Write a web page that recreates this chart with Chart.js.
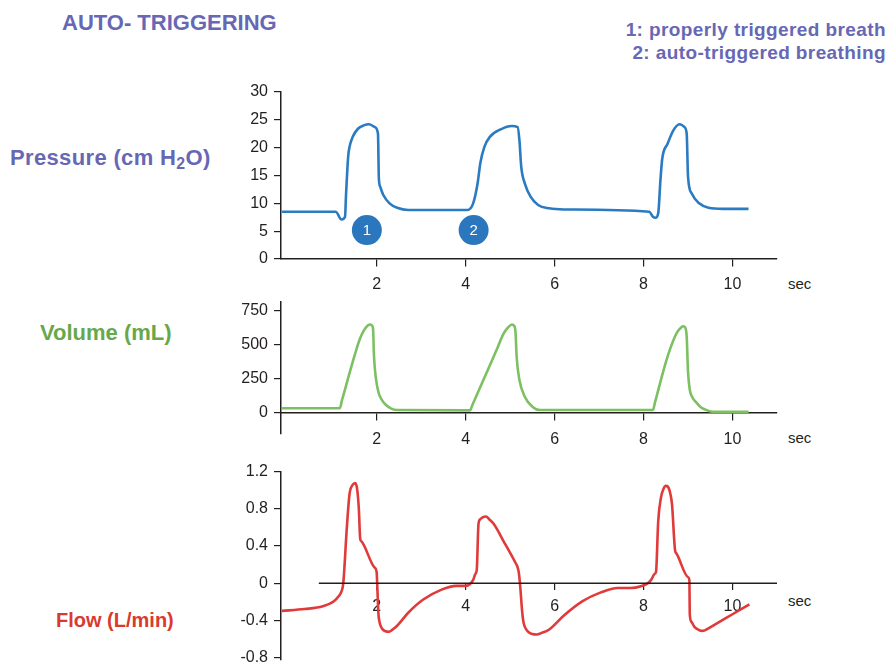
<!DOCTYPE html>
<html>
<head>
<meta charset="utf-8">
<script src="https://cdn.jsdelivr.net/npm/chart.js@4.4.0/dist/chart.umd.min.js"></script>
<style>
html,body{margin:0;padding:0;background:#fff;width:890px;height:662px;overflow:hidden;font-family:"Liberation Sans",Arial,Helvetica,sans-serif}
canvas{position:absolute;left:0;top:0}
.t{position:absolute;white-space:nowrap;font-weight:bold;line-height:1}
.sec{position:absolute;white-space:nowrap;line-height:1;font-size:15px;color:#231f20}
sub{font-size:0.72em;vertical-align:-0.28em;line-height:0}
</style>
</head>
<body>
<div class="t" style="left:62px;top:12px;font-size:22px;color:#6767b4">AUTO- TRIGGERING</div>
<div class="t" style="right:4px;top:20px;font-size:19px;letter-spacing:0.4px;color:#6767b4">1: properly triggered breath</div>
<div class="t" style="right:4px;top:43px;font-size:19px;letter-spacing:0.4px;color:#6767b4">2: auto-triggered breathing</div>
<div class="t" style="left:10px;top:147px;font-size:22px;letter-spacing:0.35px;color:#6767b4">Pressure (cm H<sub>2</sub>O)</div>
<div class="t" style="left:40px;top:322px;font-size:22px;color:#67a84b">Volume (mL)</div>
<div class="t" style="left:56px;top:610px;font-size:20px;color:#d93a2f">Flow (L/min)</div>
<div class="sec" style="left:788px;top:276px">sec</div>
<div class="sec" style="left:788px;top:430px">sec</div>
<div class="sec" style="left:788px;top:593px">sec</div>

<canvas id="cP" width="890" height="700"></canvas>
<canvas id="cV" width="890" height="700"></canvas>
<canvas id="cF" width="890" height="700"></canvas>

<script>
// ---------- data (seconds on x) ----------
const xTickValues = [2, 4, 6, 8, 10];
const xMin = -0.15, xMax = 11;

const pressureTicks = [0, 5, 10, 15, 20, 25, 30];
const pressureTime = [-0.13, 1.08, 1.21, 1.29, 1.31, 1.36, 1.39, 1.46, 1.58, 1.71,
  1.83, 1.96, 2.03, 2.05, 2.08, 2.15, 2.29, 2.46, 2.71, 4.04,
  4.17, 4.27, 4.33, 4.42, 4.54, 4.79, 5.04, 5.17, 5.21, 5.25,
  5.33, 5.46, 5.63, 5.88, 6.21, 8.13, 8.21, 8.27, 8.33, 8.38,
  8.42, 8.54, 8.67, 8.81, 8.92, 8.97, 9.0, 9.08, 9.25, 9.46,
  9.79, 10.36];
const pressureValues = [8.5, 8.5, 7.1, 7.6, 11.2, 18.4, 20.1, 21.9, 23.4, 24.0,
  24.2, 23.7, 22.5, 14.5, 13.0, 11.5, 10.0, 9.2, 8.8, 8.8,
  10.0, 13.6, 17.2, 20.1, 21.9, 23.3, 23.9, 23.7, 21.3, 16.6,
  13.6, 11.2, 9.7, 9.1, 8.9, 8.5, 7.6, 7.4, 8.2, 14.2,
  18.0, 20.7, 23.1, 24.2, 23.7, 22.5, 14.8, 11.8, 10.0, 9.2,
  9.0, 9.0];

const markerLabels = ['1', '2'];
const markerTimes = [1.78, 4.18];
const markerLevel = 5.2;

const volumeTicks = [0, 250, 500, 750];
const volumeTime = [-0.13, 1.17, 1.22, 1.50, 1.62, 1.72, 1.80, 1.86, 1.90, 1.92,
  1.94, 1.98, 2.04, 2.12, 2.21, 2.33, 2.46, 4.10, 4.15, 4.60,
  4.72, 4.85, 4.96, 5.04, 5.09, 5.12, 5.15, 5.21, 5.33, 5.50,
  5.67, 8.21, 8.26, 8.50, 8.62, 8.75, 8.85, 8.89, 8.94, 8.97,
  9.00, 9.04, 9.10, 9.17, 9.28, 9.38, 9.54, 10.36];
const volumeValues = [30, 30, 88, 415, 540, 610, 643, 650, 640, 615,
  420, 260, 150, 90, 54, 28, 17, 15, 52, 389,
  480, 580, 630, 650, 640, 600, 400, 239, 116, 42,
  17, 17, 77, 370, 490, 590, 630, 637, 625, 560,
  300, 165, 110, 79, 40, 22, 5, 5];

const flowTicks = [-0.8, -0.4, 0, 0.4, 0.8, 1.2];
const flowTime = [-0.13, 0.38, 0.79, 1.04, 1.15, 1.21, 1.25, 1.33, 1.39, 1.46,
  1.52, 1.56, 1.60, 1.63, 1.66, 1.95, 2.00, 2.02, 2.04, 2.07,
  2.12, 2.20, 2.28, 2.36, 2.46, 2.71, 3.04, 3.46, 3.79, 4.00,
  4.10, 4.17, 4.22, 4.25, 4.29, 4.33, 4.38, 4.46, 4.53, 4.63,
  4.88, 5.12, 5.17, 5.20, 5.23, 5.27, 5.30, 5.35, 5.42, 5.50,
  5.60, 5.70, 5.88, 6.21, 6.63, 7.04, 7.42, 7.71, 7.96, 8.10,
  8.17, 8.25, 8.28, 8.33, 8.39, 8.45, 8.50, 8.55, 8.60, 8.64,
  8.71, 8.74, 9.00, 9.03, 9.04, 9.08, 9.14, 9.22, 9.30, 9.38,
  9.45, 10.00, 10.38];
const flowValues = [-0.30, -0.28, -0.25, -0.195, -0.14, -0.09, 0, 0.60, 0.96, 1.06,
  1.08, 1.02, 0.80, 0.48, 0.45, 0.17, 0.12, -0.10, -0.33, -0.43,
  -0.49, -0.52, -0.525, -0.50, -0.46, -0.32, -0.18, -0.07, -0.03, -0.03,
  -0.01, 0.035, 0.10, 0.14, 0.64, 0.69, 0.71, 0.72, 0.69, 0.64,
  0.43, 0.22, 0.17, 0.10, -0.05, -0.30, -0.42, -0.49, -0.53, -0.55,
  -0.555, -0.54, -0.50, -0.35, -0.195, -0.10, -0.053, -0.053, -0.03, 0.0,
  0.035, 0.10, 0.12, 0.67, 0.92, 1.02, 1.05, 1.04, 0.97, 0.85,
  0.35, 0.32, 0.065, 0.035, -0.34, -0.42, -0.47, -0.50, -0.515, -0.51,
  -0.49, -0.336, -0.23];
const flowZeroLineX = [0.7, 11];
const flowZeroLineY = [0, 0];

// ---------- helpers ----------
const AXIS = '#231f20';
const FONT = {family: '"Liberation Sans", Arial, Helvetica, sans-serif', size: 16};
const toXY = (xs, ys) => xs.map((x, i) => ({x, y: ys[i]}));

function xAxis(labelPad, showBorder) {
  return {
    type: 'linear', min: xMin, max: xMax,
    position: {y: 0},
    afterBuildTicks: s => { s.ticks = xTickValues.map(v => ({value: v})); },
    grid: {display: true, drawOnChartArea: false, drawTicks: true, tickLength: 7, color: AXIS, lineWidth: 1.2},
    border: {display: showBorder, color: AXIS, width: 1.5},
    ticks: {color: AXIS, font: FONT, padding: labelPad, maxRotation: 0, autoSkip: false}
  };
}
function yAxis(min, max, tickVals, fmt) {
  return {
    type: 'linear', min, max,
    afterBuildTicks: s => { s.ticks = tickVals.map(v => ({value: v})); },
    afterFit: s => { s.width = 50; },
    grid: {display: true, drawOnChartArea: false, drawTicks: true, tickLength: 7, color: AXIS, lineWidth: 1.2},
    border: {display: true, color: AXIS, width: 1.5},
    ticks: {color: AXIS, font: FONT, padding: 6, callback: fmt, autoSkip: false}
  };
}
function lineDs(data, color) {
  return {data, borderColor: color, borderWidth: 2.6, pointRadius: 0, fill: false,
          cubicInterpolationMode: 'monotone'};
}
function baseOpts(padTop, padBottom, scales) {
  return {
    responsive: false, animation: false, devicePixelRatio: 1,
    layout: {padding: {left: 231, right: 113, top: padTop, bottom: padBottom}},
    plugins: {legend: {display: false}, tooltip: {enabled: false}},
    scales
  };
}

const markerPlugin = {
  id: 'breathMarkers',
  afterDatasetsDraw(chart) {
    const {ctx, scales: {x, y}} = chart;
    markerTimes.forEach((t, i) => {
      const px = x.getPixelForValue(t), py = y.getPixelForValue(markerLevel);
      ctx.save();
      ctx.beginPath();
      ctx.ellipse(px, py, 15, 15, 0, 0, Math.PI * 2);
      ctx.fillStyle = '#2a77bd';
      ctx.fill();
      ctx.fillStyle = '#ffffff';
      ctx.font = '15px "Liberation Sans", Arial, sans-serif';
      ctx.textAlign = 'center';
      ctx.textBaseline = 'middle';
      ctx.fillText(markerLabels[i], px, py + 1);
      ctx.restore();
    });
  }
};

// ---------- Pressure ----------
new Chart(document.getElementById('cP'), {
  type: 'line',
  data: {datasets: [lineDs(toXY(pressureTime, pressureValues), '#2a7bc1')]},
  options: baseOpts(92, 441, {
    x: xAxis(9, true),
    y: yAxis(0, 30, pressureTicks, v => String(v))
  }),
  plugins: [markerPlugin]
});

// ---------- Volume ----------
new Chart(document.getElementById('cV'), {
  type: 'line',
  data: {datasets: [lineDs(toXY(volumeTime, volumeValues), '#7cc062')]},
  options: baseOpts(302, 266, {
    x: xAxis(11, true),
    y: yAxis(-160, 816, volumeTicks, v => String(v))
  })
});

// ---------- Flow ----------
new Chart(document.getElementById('cF'), {
  type: 'line',
  data: {datasets: [
    {data: toXY(flowZeroLineX, flowZeroLineY), borderColor: AXIS, borderWidth: 1.5, pointRadius: 0, fill: false, tension: 0},
    lineDs(toXY(flowTime, flowValues), '#e03a3a')
  ]},
  options: baseOpts(472, 40, {
    x: xAxis(7, false),
    y: yAxis(-0.83, 1.2, flowTicks, v => (v === 0 ? '0' : v.toFixed(1)))
  })
});
</script>
</body>
</html>
